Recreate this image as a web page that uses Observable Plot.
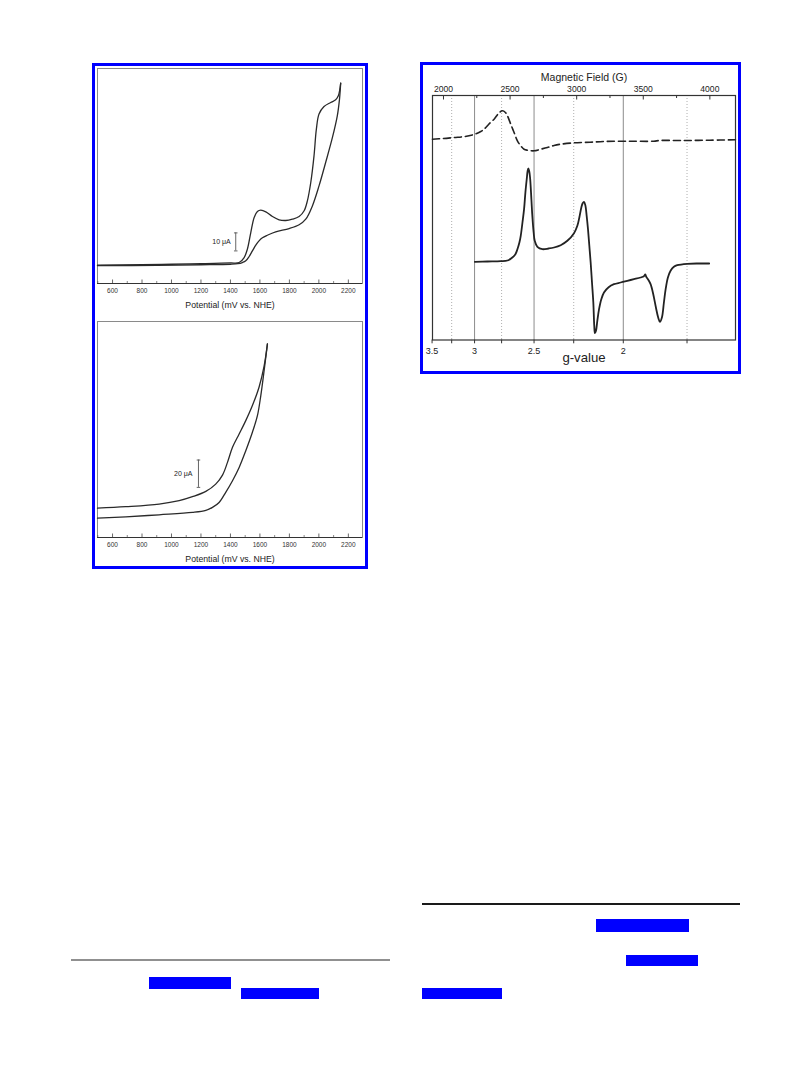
<!DOCTYPE html>
<html><head><meta charset="utf-8">
<script src="https://cdn.jsdelivr.net/npm/d3@7"></script>
<script src="https://cdn.jsdelivr.net/npm/@observablehq/plot@0.6"></script>
<style>
body{margin:0;background:#fff;width:809px;height:1067px;position:relative;overflow:hidden;font-family:"Liberation Sans",Arial,sans-serif}
.abs{position:absolute}
.blue{position:absolute;border:3px solid #0000ff;box-sizing:border-box}
.redact{position:absolute;background:#0000ff}
svg{overflow:visible}
</style></head><body>

<div class="blue" style="left:92px;top:63px;width:276px;height:506px"></div>
<div class="blue" style="left:420px;top:62px;width:321px;height:312px"></div>
<div class="abs" id="cvTop" style="left:97px;top:68px;width:265px"></div>
<div class="abs" id="cvBottom" style="left:97px;top:321px;width:265px"></div>
<div class="abs" id="epr" style="left:420px;top:63px;width:321px"></div>

<div class="abs" style="left:71px;top:959px;width:319px;height:2px;background:#909090"></div>
<div class="redact" style="left:149px;top:977px;width:82px;height:12px"></div>
<div class="redact" style="left:241px;top:988px;width:78px;height:11px"></div>
<div class="abs" style="left:422px;top:903px;width:318px;height:1.5px;background:#1a1a1a"></div>
<div class="redact" style="left:596px;top:919px;width:93px;height:13px"></div>
<div class="redact" style="left:626px;top:955px;width:72px;height:11px"></div>
<div class="redact" style="left:422px;top:988px;width:80px;height:11px"></div>

<script>
// ---------- data ----------
// Potential axis ticks (mV vs. NHE)
const potMajor = [600, 800, 1000, 1200, 1400, 1600, 1800, 2000, 2200];
const potMinor = [500, 700, 900, 1100, 1300, 1500, 1700, 1900, 2100];

// Top CV: [potential mV, current µA]
const cvTopForward = [[498,0.4],[800,0.6],[1000,0.9],[1200,1.2],[1400,1.6],[1459,1.85],[1493,4.6],[1515,9.3],[1538,18.5],[1561,26.9],[1583,30.2],[1606,30.9],[1640,30.0],[1685,27.4],[1730,25.6],[1775,25.2],[1820,25.9],[1866,27.4],[1900,30.6],[1922,36.1],[1945,46.3],[1967,61.1],[1983,75.9],[2001,84.3],[2035,88.5],[2080,90.7],[2114,92.2],[2132,94.4],[2148,101.5]];
const cvTopReturn = [[2148,101.5],[2140,92.6],[2125,83.3],[2092,71.3],[2046,57.4],[2001,44.4],[1956,33.3],[1911,25.9],[1866,22.8],[1798,20.7],[1707,18.9],[1650,17.0],[1617,15.6],[1594,13.9],[1572,11.5],[1549,8.3],[1527,5.2],[1504,2.8],[1481,1.85],[1450,1.2],[1400,0.9],[1200,0.6],[900,0.3],[498,0.1]];

// Bottom CV: [potential mV, current µA]
const cvBottomUpper = [[498,10.4],[690,11.5],[916,13.4],[1052,15.9],[1142,18.8],[1233,22.7],[1300,28.0],[1346,34.6],[1380,43.9],[1414,54.9],[1459,64.6],[1504,74.4],[1549,85.4],[1594,98.8],[1628,114.0],[1651,130.5]];
const cvBottomLower = [[498,3.1],[690,4.1],[916,5.6],[1142,7.3],[1233,8.8],[1278,11.0],[1323,14.6],[1368,22.0],[1414,30.5],[1459,40.2],[1504,52.4],[1549,65.9],[1583,78.0],[1606,92.7],[1628,110.5],[1651,130.5]];

// Scale bars
const scaleTop = [{x: 1436, y1: 8.3, y2: 18.3, label: "10 μA"}];
const scaleBottom = [{x: 1183, y1: 25.6, y2: 45.6, label: "20 μA"}];

// EPR: magnetic field ticks (G) and g-value ticks
const fieldMajor = [2000, 2500, 3000, 3500, 4000];
const fieldMinor = [2250, 2750, 3250, 3750];
const gLabelled = [3.5, 3, 2.5, 2];
const gSolid = [3, 2.5, 2];
const gDotted = [3.25, 2.75, 2.25, 1.75];
const gTimesField = 6700; // h·nu/muB in g·G (X-band, ~9.38 GHz)

// EPR spectra: [field G, intensity a.u.]
const eprDashed = [[1917,123.3],[2000,124],[2080,125],[2160,126],[2235,128.3],[2280,131],[2305,133.3],[2340,138.3],[2380,143.3],[2415,149.3],[2442,151.7],[2465,150],[2480,146.7],[2505,138.3],[2530,130],[2555,121.7],[2580,116.7],[2605,113.3],[2630,112.3],[2680,111.7],[2730,113.3],[2780,115],[2830,117],[2880,118.3],[2980,119.7],[3100,120.3],[3205,121],[3400,121.3],[3580,121.3],[3620,122],[3800,122],[4000,122.3],[4192,122.7]];
const eprSolid = [[2235,0.7],[2330,1],[2430,1.3],[2480,2],[2517,5],[2540,8.3],[2555,13.3],[2570,20],[2580,26.7],[2593,40],[2605,53.3],[2615,70],[2625,83.3],[2632,91.7],[2637,94],[2643,91.7],[2650,85],[2660,63.3],[2667,46.7],[2677,30],[2685,21.7],[2705,15.7],[2742,13.3],[2790,14],[2830,15],[2880,17.3],[2930,21.7],[2980,29.3],[3005,36.7],[3020,45],[3035,55],[3045,59.3],[3055,60.7],[3065,57.3],[3075,46.7],[3085,33.3],[3095,16.7],[3105,0],[3115,-20],[3125,-40],[3132,-63.3],[3137,-70.7],[3145,-68.3],[3155,-58.3],[3168,-46.7],[3185,-36.7],[3205,-30],[3240,-24.7],[3280,-21.7],[3330,-20],[3380,-18.3],[3430,-16.7],[3480,-15],[3505,-13.7],[3515,-12],[3522,-14.3],[3535,-16.7],[3555,-21.7],[3575,-31.7],[3595,-45],[3612,-55],[3625,-59.3],[3640,-55],[3655,-40],[3668,-26.7],[3685,-15],[3705,-8.3],[3730,-4.3],[3755,-2.7],[3830,-1.3],[3920,-1],[3995,-1]];

// ---------- drawing ----------
const FONT = "'Liberation Sans', Arial, Helvetica, sans-serif";

function cvPlot(fwd, ret, yDomain, scale, frameH, barTextDx) {
  return Plot.plot({
    width: 265, height: frameH + 35,
    marginLeft: 0, marginRight: 0, marginTop: 0, marginBottom: 35,
    style: {background: "transparent", overflow: "visible", fontFamily: FONT},
    x: {domain: [498, 2296], axis: null},
    y: {domain: yDomain, axis: null},
    marks: [
      Plot.frame({stroke: "#8a8a8a", strokeWidth: 1}),
      Plot.ruleY([yDomain[0]], {stroke: "#333", strokeWidth: 1.1}),
      Plot.tickX(potMajor, {x: d => d, insetTop: frameH - 3.5, stroke: "#444", strokeWidth: 0.8}),
      Plot.tickX(potMinor, {x: d => d, insetTop: frameH - 2, stroke: "#555", strokeWidth: 0.7}),
      Plot.text(potMajor, {x: d => d, frameAnchor: "bottom", dy: 9.8, text: d => String(d), fontSize: 6.5, fill: "#333"}),
      Plot.text(["Potential (mV vs. NHE)"], {frameAnchor: "bottom", dy: 24, fontSize: 8.7, fill: "#222"}),
      Plot.line(fwd, {x: d => d[0], y: d => d[1], stroke: "#2a2a2a", strokeWidth: 1.3, curve: "catmull-rom"}),
      Plot.line(ret, {x: d => d[0], y: d => d[1], stroke: "#2a2a2a", strokeWidth: 1.3, curve: "catmull-rom"}),
      Plot.ruleX(scale, {x: "x", y1: "y1", y2: "y2", stroke: "#555", strokeWidth: 0.9}),
      Plot.link(scale, {x1: d => d.x - 12, x2: d => d.x + 12, y1: "y1", y2: "y1", stroke: "#555", strokeWidth: 0.9}),
      Plot.link(scale, {x1: d => d.x - 12, x2: d => d.x + 12, y1: "y2", y2: "y2", stroke: "#555", strokeWidth: 0.9}),
      Plot.text(scale, {x: "x", y: d => (d.y1 + d.y2) / 2, text: "label", textAnchor: "end", dx: barTextDx, fontSize: 7, fill: "#222"})
    ]
  });
}

document.getElementById("cvTop").append(cvPlot(cvTopForward, cvTopReturn, [-9.8, 109.6], scaleTop, 215, -5));
document.getElementById("cvBottom").append(cvPlot(cvBottomUpper, cvBottomLower, [-11, 146.8], scaleBottom, 216, -6));

const eprFrameH = 244.5;
const toField = g => gTimesField / g;
const epr = Plot.plot({
  width: 321, height: 32 + eprFrameH + 34,
  marginLeft: 12, marginRight: 6, marginTop: 32, marginBottom: 34,
  style: {background: "transparent", overflow: "visible", fontFamily: FONT},
  x: {domain: [1917.5, 4192.5], axis: null},
  y: {domain: [-77.5, 167], axis: null},
  marks: [
    Plot.ruleX(gSolid, {x: toField, stroke: "#8c8c8c", strokeWidth: 1}),
    Plot.ruleX(gDotted, {x: toField, stroke: "#9a9a9a", strokeWidth: 0.8, strokeDasharray: "1,2"}),
    Plot.frame({stroke: "#333", strokeWidth: 1.2}),
    Plot.tickX(fieldMajor, {x: d => d, insetBottom: eprFrameH - 4.5, stroke: "#333", strokeWidth: 1}),
    Plot.tickX(fieldMinor, {x: d => d, insetBottom: eprFrameH - 3, stroke: "#333", strokeWidth: 1}),
    Plot.tickX(gLabelled.concat(gDotted), {x: toField, insetTop: eprFrameH, insetBottom: -3.8, stroke: "#333", strokeWidth: 1}),
    Plot.text(fieldMajor, {x: d => d, frameAnchor: "top", dy: -9.5, text: d => String(d), fontSize: 8.6, fill: "#222"}),
    Plot.text(["Magnetic Field (G)"], {frameAnchor: "top", dy: -22.4, fontSize: 10.5, fill: "#222"}),
    Plot.text(gLabelled, {x: toField, frameAnchor: "bottom", dy: 13.6, text: d => String(d), fontSize: 9, fill: "#222"}),
    Plot.text(["g-value"], {frameAnchor: "bottom", dy: 21.5, fontSize: 13.2, fill: "#222"}),
    Plot.line(eprDashed, {x: d => d[0], y: d => d[1], stroke: "#222", strokeWidth: 1.6, strokeDasharray: "7,4", curve: "catmull-rom"}),
    Plot.line(eprSolid, {x: d => d[0], y: d => d[1], stroke: "#222", strokeWidth: 1.8, curve: "catmull-rom"})
  ]
});
document.getElementById("epr").append(epr);
</script>
</body></html>
